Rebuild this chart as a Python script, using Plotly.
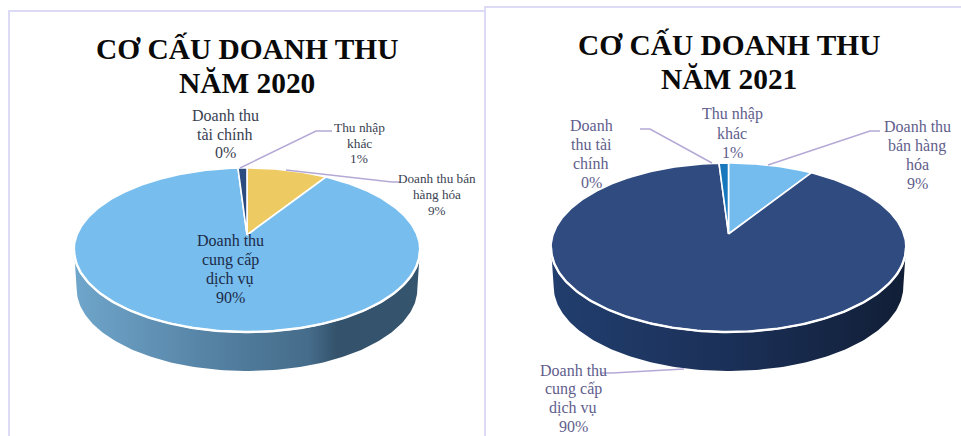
import numpy as np
import plotly.graph_objects as go

# Revenue structure, clockwise from twelve o'clock
categories = ["Doanh thu bán hàng hóa", "Doanh thu cung cấp dịch vụ",
              "Doanh thu tài chính", "Thu nhập khác"]
values_2020 = [9, 90, 0, 1]
values_2021 = [9, 90, 0, 1]
colors_2020 = ["#EDCB62", "#77BDEE", "#2A4A80", "#2A4A80"]
colors_2021 = ["#75BCEE", "#2F4B80", "#2F4B80", "#1778BD"]
wall_2020 = [[0, "#6FA6CB"], [0.45, "#527D9E"], [0.68, "#456C8A"], [0.76, "#34526B"], [1, "#35546E"]]
wall_2021 = [[0, "#213E6E"], [0.5, "#1B3058"], [1, "#111E36"]]

SERIF = "Liberation Serif"
FRAME = "#DCDAF4"
LEADER = "#B4A9D6"


def project(theta, pie, depth=0.0, shrink=1.0):
    """Perspective view of a point on the pie's rim; theta runs clockwise from the top."""
    w = 1 + pie["k"] * np.cos(theta)
    x = pie["cx"] + shrink * pie["a"] * np.sin(theta) / w
    y = pie["cy"] - pie["b"] * np.cos(theta) / w + depth
    return x, y


def add_pie(fig, values, colors, wall, pie):
    # Side wall: front half of the rim, extruded downwards
    start = np.arccos(-pie["k"])
    front = np.linspace(start, 2 * np.pi - start, 160)
    tx, ty = project(front, pie)
    bx, by = project(front, pie, depth=pie["depth"], shrink=0.985)
    fig.add_trace(go.Scatter(
        x=np.r_[tx, bx[::-1]], y=np.r_[ty, by[::-1]],
        mode="lines", line=dict(width=0), fill="toself",
        fillgradient=dict(type="horizontal", colorscale=wall),
        hoverinfo="skip", showlegend=False))

    # Top face: one wedge per category, sized from its value
    edges = np.r_[0, np.cumsum(values)] / np.sum(values) * 2 * np.pi
    for name, value, color, a0, a1 in zip(categories, values, colors, edges[:-1], edges[1:]):
        if value == 0:
            continue
        arc = np.linspace(a0, a1, max(int(value * 4), 8))
        ax, ay = project(arc, pie)
        fig.add_trace(go.Scatter(
            x=np.r_[pie["cx"], ax, pie["cx"]], y=np.r_[pie["cy"], ay, pie["cy"]],
            mode="lines", line=dict(color="white", width=1.6), fill="toself",
            fillcolor=color, name=name, showlegend=False))

    # Bright rim along the front edge
    fig.add_trace(go.Scatter(x=tx, y=ty, mode="lines", line=dict(color="white", width=2.4),
                             hoverinfo="skip", showlegend=False))


fig = go.Figure()
pie_2020 = dict(cx=247, cy=235, a=170, b=79.3, k=0.183, depth=39)
pie_2021 = dict(cx=728.5, cy=234, a=175.2, b=82.3, k=0.16, depth=39)
add_pie(fig, values_2020, colors_2020, wall_2020, pie_2020)
add_pie(fig, values_2021, colors_2021, wall_2021, pie_2021)

# Panel frames and leader lines
panel_lines = [[(9, 436), (9, 11), (485, 11)], [(485, 436), (485, 7), (961, 7)]]
leaders = [
    [(240, 168), (316, 131), (332, 131)],
    [(286, 170), (392, 182), (400, 182)],
    [(712, 163), (650, 129), (640, 129)],
    [(768, 165), (870, 131), (880, 131)],
    [(684, 369), (612, 373), (600, 373)],
]


def path(points):
    return "M " + " L ".join(f"{x} {y}" for x, y in points)


shapes = [dict(type="path", path=path(p), xref="x", yref="y",
               line=dict(color=FRAME, width=2)) for p in panel_lines]
shapes += [dict(type="path", path=path(p), xref="x", yref="y",
                line=dict(color=LEADER, width=1.5)) for p in leaders]

# Text blocks: (lines, x, y of block centre, size, line pitch, colour, bold)
DARK = "#3A3F52"
NAVY = "#1C2B48"
MUTED = "#5F5E8C"
text_blocks = [
    (["CƠ CẤU DOANH THU", "NĂM 2020"], 246.5, 65.5, 29.4, 35, "#0A0A0A", True),
    (["CƠ CẤU DOANH THU", "NĂM 2021"], 728.5, 61.5, 29.4, 34, "#0A0A0A", True),
    (["Doanh thu", "tài chính", "0%"], 225, 134, 16, 18.7, DARK, False),
    (["Thu nhập", "khác", "1%"], 359, 143, 13.4, 15.8, DARK, False),
    (["Doanh thu bán", "hàng hóa", "9%"], 437, 194, 13.2, 16, DARK, False),
    (["Doanh thu", "cung cấp", "dịch vụ", "90%"], 230, 269, 16, 18.7, NAVY, False),
    (["Doanh", "thu tài", "chính", "0%"], 591, 154, 16, 18.7, MUTED, False),
    (["Thu nhập", "khác", "1%"], 732, 133, 16, 19, MUTED, False),
    (["Doanh thu", "bán hàng", "hóa", "9%"], 917, 155, 16, 18.7, MUTED, False),
    (["Doanh thu", "cung cấp", "dịch vụ", "90%"], 573, 398.5, 16, 18.5, MUTED, False),
]
annotations = []
for lines, x, y, size, pitch, color, bold in text_blocks:
    first = y - pitch * (len(lines) - 1) / 2
    for i, line in enumerate(lines):
        annotations.append(dict(
            text=f"<b>{line}</b>" if bold else line,
            x=x, y=first + i * pitch, xref="x", yref="y", showarrow=False,
            font=dict(family=SERIF, size=size, color=color)))

fig.update_layout(
    width=961, height=436, autosize=False,
    margin=dict(l=0, r=0, t=0, b=0),
    paper_bgcolor="white", plot_bgcolor="white",
    xaxis=dict(range=[0, 961], visible=False, fixedrange=True),
    yaxis=dict(range=[436, 0], visible=False, fixedrange=True),
    shapes=shapes, annotations=annotations, showlegend=False,
)
fig.write_html("out.html", config=dict(displayModeBar=False))
